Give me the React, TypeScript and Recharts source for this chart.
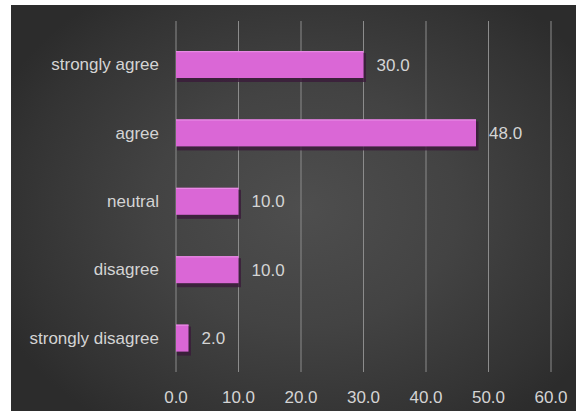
import React from "react";
import { BarChart, Bar, XAxis, YAxis, CartesianGrid, LabelList } from "recharts";

const categories = ["strongly agree", "agree", "neutral", "disagree", "strongly disagree"];
const values = [30.0, 48.0, 10.0, 10.0, 2.0];
const xTicks = [0, 10, 20, 30, 40, 50, 60];

const data = categories.map((c, i) => ({ name: c, value: values[i] }));

const FONT = "'Liberation Sans', Arial, sans-serif";
const TEXT = "#d4d4d4";

const ShadowBar = (props: any) => {
  const { x, y, width, height } = props;
  if (width <= 0) return null;
  return (
    <g>
      <rect x={x + 1} y={y + 2} width={width + 1.5} height={height + 2} fill="#3a1a3a" opacity={0.8} />
      <rect x={x} y={y} width={width} height={height} fill="#da67d6" />
      <rect x={x} y={y} width={width} height={1.2} fill="#e88ae4" />
    </g>
  );
};

export default function App() {
  return (
    <div style={{ position: "absolute", left: 0, top: 0, width: 576, height: 411, background: "#ffffff", overflow: "hidden" }}>
      <div
        style={{
          position: "absolute",
          left: 11,
          top: 5,
          width: 565,
          height: 406,
          background: "radial-gradient(ellipse 60% 65% at 52% 50%, #4e4e4e 0%, #434343 45%, #333333 85%, #2c2c2c 100%)",
        }}
      />
      <div style={{ position: "absolute", left: 0, top: 0 }}>
        <BarChart
          width={576}
          height={411}
          data={data}
          layout="vertical"
          margin={{ top: 21, right: 25, bottom: 9, left: 0 }}
          barCategoryGap={0}
        >
          <CartesianGrid horizontal={false} vertical={true} stroke="#8c8c8c" strokeWidth={1} />
          <XAxis
            type="number"
            domain={[0, 60]}
            ticks={xTicks}
            interval={0}
            axisLine={false}
            tickLine={false}
            tickSize={0}
            tickMargin={19}
            height={30}
            tickFormatter={(v: number) => v.toFixed(1)}
            tick={{ fill: TEXT, fontSize: 17, fontFamily: FONT }}
          />
          <YAxis
            type="category"
            dataKey="name"
            width={176}
            axisLine={false}
            tickLine={false}
            tickSize={0}
            tickMargin={17}
            padding={{ top: 9, bottom: 0 }}
            interval={0}
            tick={{ fill: TEXT, fontSize: 17, fontFamily: FONT }}
          />
          <Bar dataKey="value" barSize={27} isAnimationActive={false} shape={<ShadowBar />}>
            <LabelList
              dataKey="value"
              position="right"
              offset={13}
              formatter={(v: number) => v.toFixed(1)}
              style={{ fill: TEXT, fontSize: 17, fontFamily: FONT }}
            />
          </Bar>
        </BarChart>
      </div>
    </div>
  );
}
